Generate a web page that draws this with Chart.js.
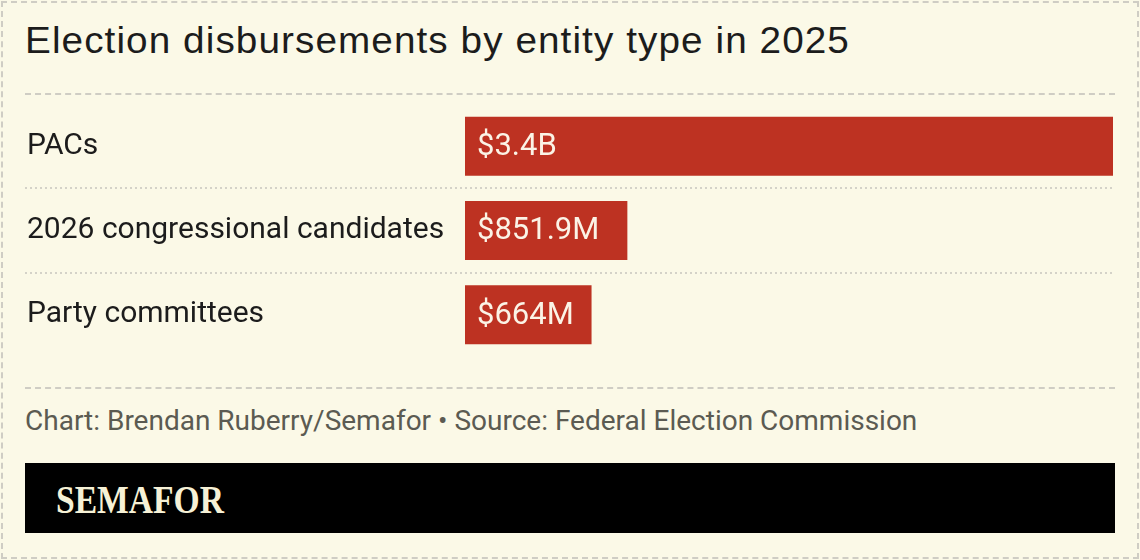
<!DOCTYPE html>
<html>
<head>
<meta charset="utf-8">
<script src="https://cdn.jsdelivr.net/npm/chart.js@4.4.1/dist/chart.umd.min.js"></script>
<style>
  html, body { margin: 0; padding: 0; }
  body { width: 1140px; height: 560px; background: #fbf9e7; position: relative; overflow: hidden; }
  .frame { position: absolute; left: 1px; top: 1px; width: 1134px; height: 554px; border: 2px dashed #cfcdc4; }
  .title { position: absolute; left: 25px; top: 20px; font-family: "Liberation Sans", Arial, sans-serif; font-size: 36px; letter-spacing: 1px; color: #1c1c1c; white-space: nowrap; transform: scaleX(1.075); transform-origin: left; }
  .rule { position: absolute; left: 25px; width: 1090px; border-top: 2px dashed #cfcdc4; }
  .source { position: absolute; left: 25px; top: 404px; font-family: Roboto, "Noto Sans", sans-serif; font-size: 28px; color: #5b5b52; white-space: nowrap; }
  .banner { position: absolute; left: 25px; top: 463px; width: 1090px; height: 70px; background: #000; }
  .banner span { position: absolute; left: 31px; top: 13px; font-family: "Liberation Serif", "Times New Roman", serif; font-weight: bold; font-size: 40px; color: #f6f1d6; transform: scaleX(0.84); transform-origin: left; white-space: nowrap; }
  .wrap { position: absolute; left: 0; top: 104px; width: 1140px; height: 253px; }
</style>
</head>
<body>
<div class="frame"></div>
<div class="title">Election disbursements by entity type in 2025</div>
<div class="rule" style="top:93px"></div>
<div class="wrap"><canvas id="chart"></canvas></div>
<div class="rule" style="top:387px"></div>
<div class="source">Chart: Brendan Ruberry/Semafor • Source: Federal Election Commission</div>
<div class="banner"><span>SEMAFOR</span></div>
<script>
const categories = ['PACs', '2026 congressional candidates', 'Party committees'];
const values = [3400, 851.9, 664]; // millions of dollars
const valueLabels = ['$3.4B', '$851.9M', '$664M'];

const barColor = '#bd3222';
const labelFont = 'Roboto, "Noto Sans", sans-serif';

// dotted lines between the rows
const separators = {
  id: 'separators',
  beforeDatasetsDraw(chart) {
    const ctx = chart.ctx;
    const y = chart.scales.y;
    ctx.save();
    ctx.strokeStyle = '#d4d2c8';
    ctx.lineWidth = 2;
    ctx.setLineDash([2, 3]);
    for (let i = 0; i < categories.length - 1; i++) {
      const py = Math.round((y.getPixelForValue(i) + y.getPixelForValue(i + 1)) / 2);
      ctx.beginPath();
      ctx.moveTo(25, py);
      ctx.lineTo(chart.chartArea.right, py);
      ctx.stroke();
    }
    ctx.restore();
  }
};

// value text inside the bars
const barLabels = {
  id: 'barLabels',
  afterDatasetsDraw(chart) {
    const ctx = chart.ctx;
    const meta = chart.getDatasetMeta(0);
    ctx.save();
    ctx.fillStyle = '#fbf3e6';
    ctx.font = '31px ' + labelFont;
    ctx.textBaseline = 'middle';
    ctx.textAlign = 'left';
    meta.data.forEach((bar, i) => {
      ctx.fillText(valueLabels[i], bar.base + 12, bar.y + 1);
    });
    ctx.restore();
  }
};

new Chart(document.getElementById('chart'), {
  type: 'bar',
  data: {
    labels: categories,
    datasets: [{
      data: values,
      backgroundColor: barColor,
      borderWidth: 0,
      categoryPercentage: 1,
      barPercentage: 0.7
    }]
  },
  options: {
    indexAxis: 'y',
    responsive: true,
    maintainAspectRatio: false,
    animation: false,
    layout: { padding: { left: 27, right: 27, top: 0, bottom: 0 } },
    plugins: {
      legend: { display: false },
      tooltip: { enabled: false }
    },
    scales: {
      x: { display: false, min: 0, max: 3400 },
      y: {
        afterFit(scale) {
          scale.width = 438;
          scale.paddingTop = 0;
          scale.paddingBottom = 0;
        },
        grid: { display: false, drawTicks: false },
        border: { display: false },
        ticks: {
          crossAlign: 'far',
          padding: 0,
          color: '#1c1c1c',
          font: { family: labelFont, size: 30 }
        }
      }
    }
  },
  plugins: [separators, barLabels]
});
</script>
</body>
</html>
